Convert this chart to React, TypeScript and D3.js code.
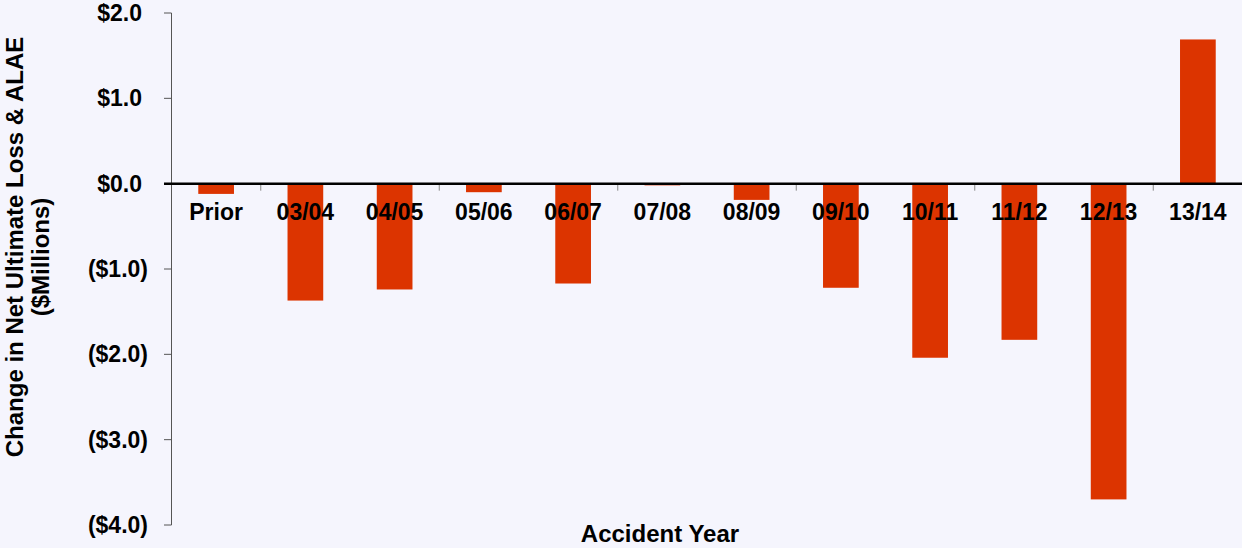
import React from "react";
import * as d3 from "d3";

const categories = ["Prior", "03/04", "04/05", "05/06", "06/07", "07/08", "08/09", "09/10", "10/11", "11/12", "12/13", "13/14"];
const values = [-0.12, -1.37, -1.24, -0.1, -1.17, -0.02, -0.19, -1.22, -2.04, -1.83, -3.7, 1.69];
const yTicks = [2, 1, 0, -1, -2, -3, -4];

const W = 1242;
const H = 548;
const font = "Arial, 'Liberation Sans', sans-serif";

function fmt(v: number) {
  const s = "$" + Math.abs(v).toFixed(1);
  return v < 0 ? `(${s})` : s;
}

export default function App() {
  const x = d3.scaleBand<string>().domain(categories).range([171.5, 1242.5]).paddingInner(0.6).paddingOuter(0.3);
  const band = d3.scaleBand<string>().domain(categories).range([171.5, 1242.5]);
  const y = d3.scaleLinear().domain([-4, 2]).range([525, 13]);
  const y0 = y(0);

  return (
    <div style={{ position: "fixed", left: 0, top: 0, width: W, height: H }}>
      <svg width={W} height={H} style={{ display: "block", background: "#f5f5fd" }}>
        {/* y axis */}
        <line x1={171.5} x2={171.5} y1={y(2)} y2={y(-4)} stroke="#555" strokeWidth={1} />
        {yTicks.map((t) => (
          <g key={t}>
            <line x1={164} x2={171.5} y1={y(t)} y2={y(t)} stroke="#555" strokeWidth={1} />
            <text
              x={t < 0 ? 148 : 142}
              y={y(t)}
              dy="0.35em"
              textAnchor="end"
              fontFamily={font}
              fontWeight="bold"
              fontSize={23}
              fill="#000"
            >
              {fmt(t)}
            </text>
          </g>
        ))}
        {/* bars */}
        {categories.map((c, i) => {
          const v = values[i];
          const top = Math.min(y(v), y0);
          const h = Math.abs(y(v) - y0);
          return <rect key={c} x={x(c)} y={top} width={x.bandwidth()} height={h} fill="#dc3400" />;
        })}
        {/* category ticks */}
        {categories.map((c, i) =>
          i % 2 === 1 ? (
            <line key={"t" + c} x1={band(c)!} x2={band(c)!} y1={y0} y2={y0 + 7} stroke="#888" strokeWidth={1} />
          ) : null
        )}
        {/* zero line */}
        <line x1={164} x2={W} y1={y0} y2={y0} stroke="#000" strokeWidth={2.5} />
        {/* category labels */}
        {categories.map((c) => (
          <text
            key={"l" + c}
            x={band(c)! + band.bandwidth() / 2}
            y={212}
            dy="0.35em"
            textAnchor="middle"
            fontFamily={font}
            fontWeight="bold"
            fontSize={23}
            fill="#000"
          >
            {c}
          </text>
        ))}
        {/* axis titles */}
        <text x={660} y={542} textAnchor="middle" fontFamily={font} fontWeight="bold" fontSize={24} fill="#000">
          Accident Year
        </text>
        <g transform="translate(15,247) rotate(-90)">
          <text x={0} y={0} dy="0.35em" textAnchor="middle" fontFamily={font} fontWeight="bold" fontSize={24} fill="#000">
            Change in Net Ultimate Loss &amp; ALAE
          </text>
          <text x={-10} y={26} dy="0.35em" textAnchor="middle" fontFamily={font} fontWeight="bold" fontSize={24} fill="#000">
            ($Millions)
          </text>
        </g>
      </svg>
    </div>
  );
}
